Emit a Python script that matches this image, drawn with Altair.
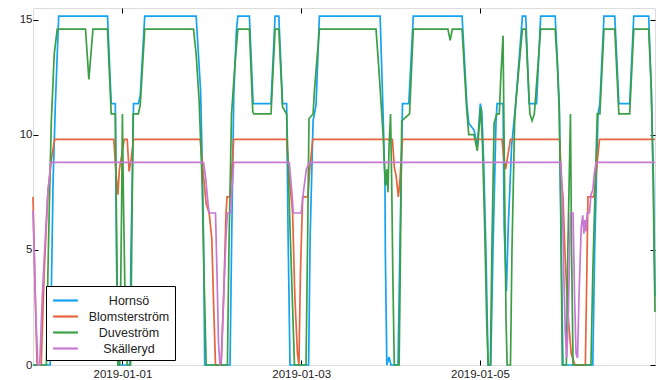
import altair as alt
import pandas as pd

# (hours since 2018-12-31 00:00, value)
hornso = [(0, 0), (4.6, 0), (5.0, 4), (5.4, 8), (6.0, 11.3), (6.9, 15.15), (20.0, 15.15), (21.0, 11.35),
          (22.1, 11.35), (22.4, 5.0), (22.8, 0), (26.0, 0), (26.3, 4.9), (27.0, 11.35), (28.3, 11.35),
          (28.8, 11.7), (30.0, 15.15), (43.8, 15.15), (45.0, 11.9), (45.4, 9.1), (45.8, 5.4), (46.1, 0),
          (52.9, 0), (53.3, 5), (53.9, 11.7), (54.6, 14.5), (55.0, 15.15), (58.1, 15.15), (59.1, 11.35),
          (63.9, 11.35), (65.0, 15.15), (66.0, 15.15), (67.0, 11.35), (68.1, 11.35), (68.5, 5.5), (69.0, 0),
          (74.0, 0), (74.4, 5.5), (75.2, 10.6), (76.0, 11.3), (76.9, 15.15), (93.2, 15.15), (93.6, 13.0),
          (94.0, 10.9), (94.5, 7.8), (94.6, 4.9), (95.0, 0), (95.6, 0.35), (96.1, 0), (98.0, 0), (98.5, 5),
          (99.2, 11.35), (100.9, 11.35), (102.1, 15.15), (115.2, 15.15), (116.5, 11.3), (117.0, 10.5),
          (118.4, 10.2), (119.3, 9.5), (120.1, 11.35), (120.5, 11.0), (121.0, 8.8), (121.6, 5), (122.2, 0),
          (122.9, 0), (123.5, 5), (124.3, 10.5), (124.6, 11.35), (126.2, 11.35), (126.5, 6), (127.1, 3.2),
          (127.6, 6), (128.5, 9.5), (129.6, 11.35), (131.4, 15.15), (132.3, 15.15), (133.2, 11.35),
          (135.2, 11.35), (136.3, 15.15), (140.2, 15.15), (140.7, 13.5), (141.3, 11.3), (141.8, 5),
          (142.3, 0), (150.3, 0), (150.8, 5), (151.7, 10.9), (152.2, 11.35), (153.3, 15.15), (156.2, 15.15),
          (157.3, 11.35), (160.2, 11.35), (161.3, 15.15), (165.3, 15.15), (166.0, 12), (166.6, 8), (167.0, 3)]

blomsterstrom = [(0, 7.3), (0.6, 3), (1.1, 0), (2.2, 0), (3.0, 4), (4.0, 7.5), (5.0, 9.0), (5.8, 9.8),
                 (21.7, 9.8), (22.2, 8.5), (22.8, 7.4), (23.2, 8.5), (24.5, 9.8), (25.3, 9.8), (25.8, 8.4),
                 (26.4, 9.0), (27.0, 9.8), (44.9, 9.8), (45.6, 8.5), (46.5, 7.0), (47.3, 6.6), (48.0, 5.5),
                 (48.5, 2.6), (49.0, 0), (50.5, 0), (51.2, 3), (51.8, 6.5), (52.1, 7.3), (52.9, 7.3),
                 (53.9, 9.8), (68.1, 9.8), (68.6, 8.5), (69.7, 6.6), (70.3, 3), (71.0, 0.5), (71.4, 0),
                 (71.8, 4), (72.4, 7.3), (73.8, 7.3), (74.3, 8.5), (75.1, 9.8), (96.5, 9.8), (97.0, 8.6),
                 (97.5, 8.2), (98.1, 7.3), (98.5, 8.0), (99.2, 9.8), (125.9, 9.8), (126.4, 9.0),
                 (126.9, 8.5), (127.4, 9.0), (128.2, 9.8), (141.4, 9.8), (141.9, 8), (142.3, 7.3),
                 (142.8, 5), (143.5, 2.5), (144.5, 0.5), (145.5, 0), (148.3, 0), (148.6, 3), (149.0, 7.3),
                 (150.6, 7.3), (151.3, 8.5), (152.1, 9.8), (167, 9.8)]

duvestrom = [(0, 0), (3.6, 0), (4.0, 4), (4.4, 7), (4.9, 10.5), (5.7, 13.5), (6.5, 14.58), (14.1, 14.58),
             (15.0, 12.4), (16.1, 14.58), (20.0, 14.58), (21.0, 10.9), (22.1, 10.9), (22.5, 5), (22.8, 0),
             (23.3, 0), (23.8, 7), (24.0, 10.9), (24.3, 7), (24.8, 2), (25.3, 0), (26.2, 0), (26.5, 5),
             (26.9, 10.9), (28.3, 10.9), (28.8, 11.3), (30.0, 14.58), (43.1, 14.58), (43.8, 13.5),
             (44.6, 11.5), (45.4, 8), (45.9, 4), (46.5, 0), (52.2, 0), (52.6, 5), (53.3, 10.9), (54.2, 13),
             (55.0, 14.58), (58.1, 14.58), (59.0, 11), (59.3, 10.9), (63.9, 10.9), (65.0, 14.58),
             (66.0, 14.58), (67.0, 11.2), (68.1, 10.9), (68.8, 7), (69.4, 4), (70.2, 0), (73.3, 0),
             (73.7, 5), (74.1, 10.7), (75.2, 10.9), (75.6, 12), (76.9, 14.58), (92.1, 14.58), (92.8, 13),
             (93.4, 11.5), (94.0, 10), (94.4, 8.5), (94.7, 7.8), (95.0, 8.5), (95.3, 7.5), (95.6, 9.5),
             (96.0, 10.9), (96.3, 8), (96.6, 4), (97.0, 0), (98.3, 0), (98.6, 4), (99.0, 10.6),
             (101.1, 10.9), (102.1, 14.58), (111.4, 14.58), (112.0, 14.1), (112.6, 14.58), (115.2, 14.58),
             (116.4, 11.2), (117.0, 10.0), (118.4, 10.0), (119.3, 9.3), (120.2, 11.2), (120.7, 9.5),
             (121.3, 5.8), (121.8, 2), (122.2, 0), (122.8, 0), (123.2, 5), (123.8, 10.5), (124.5, 10.9),
             (125.2, 10.9), (125.6, 12.5), (126.2, 14.3), (126.6, 8), (127.0, 2), (127.3, 0), (128.2, 0),
             (128.6, 5), (129.3, 10.5), (129.6, 11.35), (131.4, 14.58), (132.3, 14.58), (133.4, 10.9),
             (134.0, 10.6), (134.6, 10.9), (136.3, 14.58), (140.2, 14.58), (140.8, 13), (141.3, 11),
             (141.7, 7), (142.1, 0), (143.2, 0), (143.6, 5), (144.3, 10.9), (144.6, 5), (145.0, 0),
             (149.8, 0), (150.3, 4), (150.9, 7.5), (151.5, 10.9), (152.2, 10.9), (153.3, 14.58),
             (156.2, 14.58), (157.3, 10.9), (160.2, 10.9), (161.3, 14.58), (165.3, 14.58), (166.0, 12),
             (166.5, 8), (166.8, 4.5), (167, 2.3)]

skalleryd = [(0, 6.7), (0.8, 2), (1.3, 0), (1.8, 0), (2.5, 3), (3.3, 5.5), (4.0, 7.5), (4.8, 8.8),
             (45.8, 8.8), (46.3, 8.2), (47.0, 7.0), (47.3, 6.6), (49.0, 6.6), (49.4, 4), (49.8, 1),
             (50.2, 0), (50.6, 0.3), (51.2, 3), (51.8, 5.5), (52.2, 6.6), (53.0, 6.6), (53.9, 8.8),
             (68.8, 8.8), (69.5, 7.5), (69.9, 6.6), (72.0, 6.6), (72.6, 7.5), (73.4, 8.5), (74.2, 8.8),
             (141.7, 8.8), (142.1, 7.5), (142.5, 4), (142.9, 1.5), (143.3, 0.3), (143.7, 2), (144.3, 6.6),
             (145.0, 6.6), (145.4, 3), (145.8, 0.5), (146.2, 0.3), (146.6, 3), (147.2, 6.0), (147.6, 6.5),
             (147.9, 5.7), (148.2, 6.3), (148.5, 5.8), (148.8, 6.6), (149.4, 6.6), (149.8, 7.4),
             (150.3, 7.6), (150.7, 8.3), (151.2, 8.8), (167, 8.8)]

names = ["Hornsö", "Blomsterström", "Duveström", "Skälleryd"]
colors = ["#14a2f2", "#e6653d", "#3c9f45", "#c679d3"]
series = [hornso, blomsterstrom, duvestrom, skalleryd]

start = pd.Timestamp("2018-12-31 00:00")
rows = []
for name, pts in zip(names, series):
    for h, v in pts:
        rows.append({"t": start + pd.Timedelta(hours=h), "v": v, "s": name})
df = pd.DataFrame(rows)

FONT = "Liberation Sans"
xdom = [alt.DateTime(year=2018, month=12, date=31, hours=0),
        alt.DateTime(year=2019, month=1, date=6, hours=23)]
xticks = [alt.DateTime(year=2019, month=1, date=d) for d in (1, 3, 5)]
yticks = [0, 5, 10, 15]

xscale = alt.Scale(domain=xdom)
yscale = alt.Scale(domain=[0, 15.5], nice=False, zero=False)
cscale = alt.Scale(domain=names, range=colors)

base = alt.Chart(df)

leg = alt.Legend(title=None, orient="none", legendX=13, legendY=278,
                 symbolType="M-1.55,0H1.55", symbolSize=256, symbolStrokeWidth=2.2,
                 symbolOffset=5, labelAlign="center", labelOffset=54,
                 labelFont=FONT, labelFontSize=12.5,
                 labelColor="#222222", fillColor="white", strokeColor="black",
                 padding=5, rowPadding=0)

layers = []
for i, name in enumerate(names):
    if i == 0:
        xax = alt.Axis(values=xticks, format="%Y-%m-%d", title=None, grid=False, domain=False,
                       tickSize={"expr": "-5"}, tickColor="black", labelPadding=8,
                       labelFont=FONT, labelFontSize=11.5, labelColor="#222222", labelFlush=False)
        yax = alt.Axis(values=yticks, title=None, grid=False, domain=False,
                       tickSize={"expr": "-5"}, tickColor="black", labelPadding=6,
                       labelFont=FONT, labelFontSize=11.5, labelColor="#222222")
    else:
        xax = None
        yax = None
    layers.append(
        base.transform_filter(alt.datum.s == name)
        .mark_line(strokeWidth=1.7, strokeJoin="miter")
        .encode(
            x=alt.X("t:T", scale=xscale, axis=xax),
            y=alt.Y("v:Q", scale=yscale, axis=yax),
            color=alt.Color("s:N", scale=cscale, legend=leg),
        )
    )

ticks_layer = base.mark_line(opacity=0).encode(
    x=alt.X("t:T", scale=xscale,
            axis=alt.Axis(orient="top", values=xticks, labels=False, title=None, grid=False,
                          domain=False, tickSize={"expr": "-5"}, tickColor="black")),
    y=alt.Y("v:Q", scale=yscale,
            axis=alt.Axis(orient="right", values=yticks, labels=False, title=None, grid=False,
                          domain=False, tickSize={"expr": "-5"}, tickColor="black")),
    detail="s:N",
)

chart = (
    alt.layer(*layers, ticks_layer)
    .resolve_scale(x="shared", y="shared", color="shared")
    .resolve_axis(x="independent", y="independent")
    .properties(width=622, height=357,
                padding={"left": 33, "top": 8, "right": 5, "bottom": 15},
                autosize=alt.AutoSizeParams(type="none"))
    .configure_view(stroke="black", strokeWidth=1.5)
    .configure_legend(strokeWidth=1.5)
    .configure(background="white")
)

chart.save("out.html", embed_options={"renderer": "svg", "actions": False})
